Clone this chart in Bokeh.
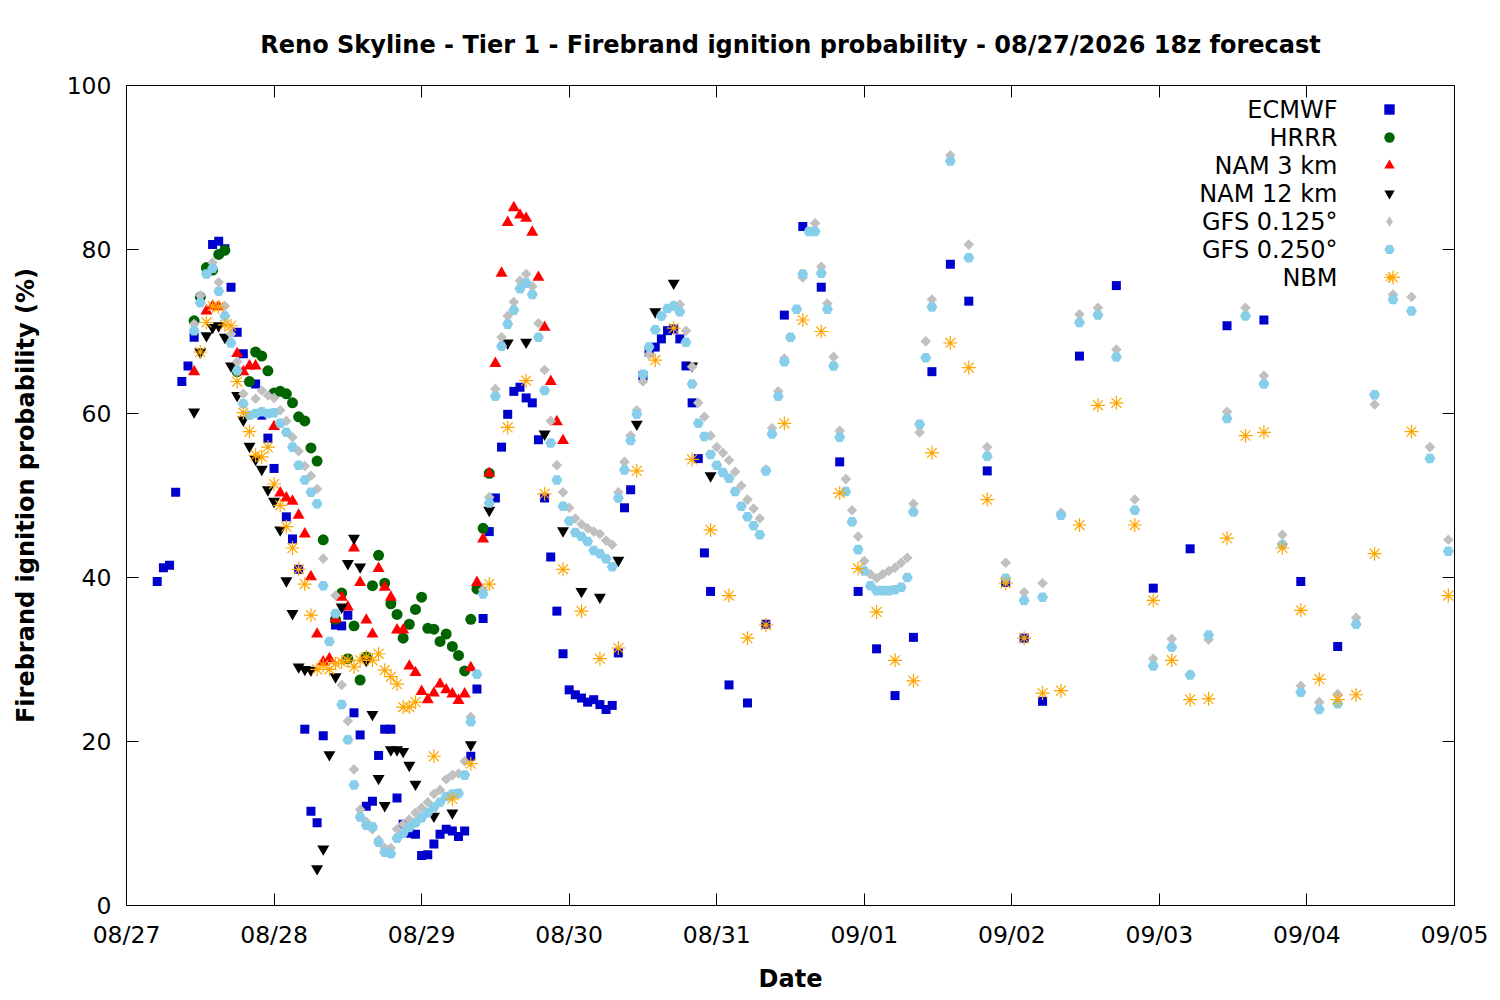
import pandas as pd
from bokeh.plotting import figure
from bokeh.models import (Range1d, FixedTicker, DatetimeTickFormatter, LinearAxis,
                          Legend, LegendItem, CustomJSTickFormatter, Label)
from bokeh.embed import file_html
from bokeh.resources import INLINE

# ---------------- data ----------------
BASE = "2026-08-27 00:00"          # hours below are counted from this local time
X_START = "2026-08-27"
X_END = "2026-09-05"
DAY_TICKS = ["2026-08-27", "2026-08-28", "2026-08-29", "2026-08-30", "2026-08-31",
             "2026-09-01", "2026-09-02", "2026-09-03", "2026-09-04", "2026-09-05"]
Y_TICKS = [0, 20, 40, 60, 80, 100]

TITLE = "Reno Skyline - Tier 1 - Firebrand ignition probability - 08/27/2026 18z forecast"
SERIES_NAMES = ["ECMWF", "HRRR", "NAM 3 km", "NAM 12 km", "GFS 0.125°", "GFS 0.250°", "NBM"]

ecmwf_h = [5, 6, 7, 8, 9, 10, 11, 14, 15, 16, 17, 18, 19, 21, 22, 23, 24, 26, 27, 28, 29, 30, 31, 32,
           34, 35, 36, 37, 38, 39, 40, 41, 42, 43, 44, 45, 46, 47, 48, 49, 50, 51, 52, 53, 54, 55,
           56, 57, 58, 59, 60, 61, 62, 63, 64, 65, 66, 67, 68, 69, 70, 71, 72, 73, 74, 75, 76, 77,
           78, 79, 80, 81, 82, 84, 85, 86, 87, 88, 89, 90, 91, 92, 93, 94, 95,
           98, 101, 104, 107, 110, 113, 116, 119, 122, 125, 128, 131, 134, 137, 140, 143, 146, 149,
           155, 161, 167, 173, 179, 185, 191, 197]
ecmwf_v = [39.5, 41.2, 41.5, 50.4, 63.9, 65.8, 69.3, 80.6, 81.0, 80.1, 75.4, 69.9, 67.3, 63.6, 59.8,
           57.0, 53.3, 47.4, 44.7, 41.0, 21.5, 11.5, 10.1, 20.7,
           34.2, 34.1, 35.4, 23.5, 20.8, 12.1, 12.7, 18.3, 21.5, 21.5, 13.1, 9.9, 8.8, 8.7, 6.1, 6.2,
           7.5, 8.7, 9.3, 9.1, 8.4, 9.1,
           18.2, 26.4, 35.0, 45.6, 49.7, 55.9, 59.9, 62.7, 63.2, 61.9, 61.3, 56.8, 49.7, 42.5, 35.9,
           30.7, 26.3, 25.7, 25.3, 24.8, 25.1, 24.5,
           23.9, 24.4, 30.8, 48.5, 50.7, 64.6, 67.5, 68.1, 69.1, 70.1, 70.3, 69.1, 65.8, 61.3, 54.5,
           43.0, 38.3,
           26.9, 24.7, 34.3, 72.0, 82.8, 75.4, 54.1, 38.3, 31.3, 25.6, 32.7, 65.1, 78.2, 73.7, 53.0,
           39.4, 32.6, 24.9,
           67.0, 75.6, 38.7, 43.5, 70.7, 71.4, 39.5, 31.6]

hrrr_h = [11, 12, 13, 14, 15, 16, 18, 20, 21, 22, 23, 24, 25, 26, 27, 28, 29, 30, 31, 32, 34, 35,
          36, 37, 38, 39, 40, 41, 42, 43, 44, 45, 46, 47, 48, 49, 50, 51, 52, 53, 54, 55, 56, 57,
          58, 59]
hrrr_v = [71.3, 74.2, 77.8, 77.5, 79.4, 79.9, 65.1, 63.9, 67.5, 67.0, 65.2, 62.5, 62.7, 62.4, 61.3,
          59.6, 59.1, 55.8, 54.2, 44.6, 34.9, 38.1,
          30.1, 34.1, 27.5, 30.3, 39.0, 42.7, 39.3, 36.8, 35.5, 32.6, 34.3, 36.1, 37.6, 33.8, 33.7,
          32.2, 33.1, 31.6, 30.5, 28.6, 34.9, 38.6,
          46.0, 52.7]

nam3_h = [11, 13, 14, 15, 18, 19, 20, 21, 24, 25, 26, 27, 28, 29, 30, 31, 32, 33, 34, 35, 36, 37,
          38, 39, 40, 41, 42, 43, 44, 45, 46, 47, 48, 49, 50, 51, 52, 53, 54, 55, 56, 57, 58, 59,
          60, 61, 62, 63, 64, 65, 66, 67, 68, 69, 70, 71]
nam3_v = [65.1, 72.5, 73.1, 73.0, 67.3, 65.1, 65.8, 65.8, 58.4, 50.3, 49.7, 49.3, 47.6, 45.3, 40.1,
          33.1, 29.7, 30.1, 34.9, 37.6, 36.4, 43.6,
          39.4, 34.8, 33.1, 41.1, 38.8, 37.6, 33.6, 33.6, 29.2, 28.4, 26.1, 25.1, 25.9, 27.0, 26.3,
          25.8, 25.0, 25.8, 29.0, 39.4, 44.7, 52.7,
          66.1, 77.1, 83.3, 85.1, 84.2, 83.8, 82.1, 76.6, 70.5, 63.9, 59.0, 56.7]

nam12_h = [11, 12, 13, 14, 15, 16, 17, 18, 19, 20, 21, 22, 23, 24, 25, 26, 27, 28, 29, 30, 31, 32,
           33, 34, 35, 36, 37, 38, 39, 40, 41, 42, 43, 44, 45, 46, 47,
           50, 53, 56, 59, 62, 65, 68, 71, 74, 77, 80, 83, 86, 89, 92, 95]
nam12_v = [60.2, 67.5, 69.5, 70.5, 70.7, 69.3, 65.8, 62.2, 59.2, 56.0, 54.4, 53.2, 50.7, 49.3, 45.8,
           39.6, 35.6, 29.1, 28.8, 28.7, 4.5, 6.9,
           18.4, 27.9, 36.4, 41.7, 44.8, 41.3, 29.9, 23.3, 15.5, 12.2, 19.0, 19.0, 18.8, 17.1, 14.8,
           10.9, 11.3, 19.6, 48.2, 68.6, 68.7, 57.5, 45.7, 38.3, 37.6, 42.1, 58.7, 72.4, 75.9, 65.8,
           52.4]

gfs0125_h = [11, 12, 14, 15, 16, 17, 18, 19, 21, 22, 23, 24, 25, 26, 27, 28, 29, 30, 31, 32, 34, 35,
             36, 37, 38, 39, 40, 41, 42, 43, 44, 45, 46, 47, 48, 49, 50, 51, 52, 53, 54, 55, 56,
             58, 59, 60, 61, 62, 63, 64, 65, 66, 67, 68, 69, 70, 71, 72, 73, 74, 75, 76, 77, 78, 79,
             80, 81, 82, 83, 84, 85, 87, 89, 90, 91, 92, 93, 94, 95, 96, 97, 98, 99, 100, 101, 102,
             103, 104, 105, 106, 107, 110, 112, 113, 114, 115, 116, 117, 118, 119, 120, 121, 122,
             123, 124, 125, 126, 127, 128, 129, 130, 131,
             134, 137, 140, 143, 146, 149, 152, 155, 158, 161, 164, 167, 170, 173, 176, 179, 182,
             185, 188, 191, 194, 197, 200, 203, 206, 209, 212, 215]
gfs0125_v = [70.9, 74.4, 78.4, 76.0, 73.1, 69.7, 66.3, 62.4, 61.8, 62.8, 62.2, 61.9, 60.4, 59.1, 57.1,
             55.4, 53.6, 52.4, 50.8, 42.3, 37.8, 26.9,
             22.5, 16.6, 11.7, 10.2, 9.3, 8.0, 7.0, 7.0, 9.3, 9.9, 10.5, 11.3, 11.9, 12.6, 13.6, 14.1,
             15.4, 15.9, 16.1, 17.6, 23.0,
             38.5, 49.8, 63.0, 69.3, 71.9, 73.6, 76.2, 77.0, 75.5, 71.0, 65.3, 59.1, 53.7, 50.4, 48.5,
             47.2, 46.5, 46.0, 45.6, 45.3, 44.5, 44.0,
             50.4, 54.1, 57.3, 60.4, 63.9, 67.2, 71.9, 73.2, 73.3, 70.1, 65.7, 61.3, 59.6, 57.3, 55.9,
             55.2, 54.3, 52.9, 51.2, 49.5, 48.4,
             47.2, 53.2, 58.2, 62.7, 66.7, 76.6, 83.2, 77.9, 73.4, 66.9, 57.9, 52.0, 48.2, 45.0, 42.0,
             40.4, 39.9,
             40.4, 40.8, 41.2, 41.8, 42.4, 49.0, 57.7, 68.8, 73.9,
             91.5, 80.6, 55.9, 41.8, 38.2, 39.3, 47.9, 72.1, 72.9, 67.8, 49.5, 30.1, 32.5, 28.2, 32.4,
             60.2, 72.9,
             64.6, 45.2, 26.8, 24.8, 25.8, 35.1, 61.1, 74.5, 74.2, 55.9, 44.6]

gfs0250_h = list(range(11, 132)) + list(range(134, 216, 3))
gfs0250_v = [70.1, 73.5, 77.0, 77.7, 74.9, 71.9, 68.6, 65.2, 61.2, 59.8,             # 11-20
             60.0, 60.2, 60.0, 60.1, 58.8, 57.7, 55.9, 53.7, 51.9, 50.4,             # 21-30
             49.0, 39.0, 32.2, 35.6, 24.5, 20.2, 14.7, 10.8, 9.8, 9.6,               # 31-40
             7.7, 6.5, 6.3, 8.2, 8.8, 9.5, 10.1, 10.7, 11.3, 12.0,                   # 41-50
             12.6, 13.3, 13.6, 13.7, 15.9, 22.4, 28.2, 38.0, 49.1, 62.1,             # 51-60
             68.2, 70.9, 72.6, 75.2, 75.9, 74.5, 69.3, 62.8, 56.4, 51.9,             # 61-70
             48.7, 46.9, 45.5, 45.0, 44.4, 43.3, 42.9, 42.3, 41.3, 49.7,             # 71-80
             53.1, 56.7, 59.9, 64.8, 68.1, 70.2, 71.9, 72.8, 73.1, 72.4,             # 81-90
             68.7, 63.6, 58.8, 57.2, 55.0, 53.7, 52.8, 52.1, 50.5, 48.7,             # 91-100
             47.4, 46.3, 45.2, 53.0, 57.5, 62.1, 66.3, 69.3, 72.7, 77.0,             # 101-110
             82.2, 82.2, 77.1, 72.7, 65.8, 57.1, 50.5, 46.8, 43.4, 40.8,             # 111-120
             39.0, 38.4, 38.4, 38.4, 38.5, 38.8, 40.0, 48.0, 58.7, 66.8,             # 121-130
             73.0,                                                                   # 131
             90.8, 79.0, 54.8, 39.9, 37.2, 37.6, 47.6, 71.1, 72.0, 66.9, 48.2, 29.2, 31.5, 28.1,
             33.0, 59.4, 71.9, 63.6, 44.0, 26.0, 23.9, 24.6, 34.3, 62.3, 73.9, 72.5, 54.5, 43.2]

nbm_h = list(range(12, 48)) + [50, 53, 56, 59, 62, 65, 68, 71, 74, 77, 80, 83, 86, 89, 92, 95, 98,
                               101, 104, 107, 110, 113, 116, 119, 122, 125, 128, 131, 134, 137,
                               140, 143, 146, 149, 152, 155, 158, 161, 164, 167, 170, 173, 176,
                               179, 182, 185, 188, 191, 194, 197, 200, 203, 206, 209, 215]
nbm_v = [67.5, 71.1, 73.1, 73.0, 70.8, 70.7, 63.9, 60.1, 57.8, 54.9, 54.7, 55.9, 51.4, 48.8, 46.2,
         43.6, 41.0, 39.2, 35.4, 28.8, 29.3, 28.8, 29.5, 29.7, 29.9, 29.1, 29.9, 30.3, 29.9, 30.7,
         28.7, 27.9, 27.0, 24.2, 24.2, 24.8,
         18.2, 13.0, 17.3, 39.2, 58.3, 64.0, 50.2, 41.0, 35.9, 30.1, 31.4, 53.0, 66.5, 70.4, 54.4,
         45.8, 37.8, 32.6, 34.2, 58.8, 71.4, 70.0, 50.3, 41.1, 35.8, 29.9, 27.4, 55.2, 68.6, 65.6,
         49.5, 39.3, 32.6, 25.9, 26.2, 46.4, 61.0, 61.3, 46.4, 37.2, 29.9, 25.1, 25.2,
         44.8, 57.3, 57.7, 43.6, 36.0, 27.6, 25.1, 25.7, 42.9, 76.6, 57.8, 37.8]

# ---------------- helpers ----------------
base = pd.Timestamp(BASE)


def to_time(hours):
    return base + pd.to_timedelta(hours, unit="h")


def ms(d):
    return pd.Timestamp(d).value / 1e6


FONT = "DejaVu Sans"
W, H = 1490, 995
BL, BR, BT, BB = 126, 36, 85, 85
FRAME_W = W - BL - BR
FRAME_H = H - BT - BB

p = figure(width=W, height=H, x_axis_type="datetime",
           x_range=Range1d(ms(X_START), ms(X_END)), y_range=Range1d(Y_TICKS[0], Y_TICKS[-1]),
           output_backend="svg", toolbar_location=None, title=TITLE,
           min_border_left=BL, min_border_right=BR, min_border_top=BT, min_border_bottom=BB)

p.background_fill_color = "white"
p.border_fill_color = "white"
p.xgrid.visible = False
p.ygrid.visible = False
p.outline_line_color = "black"
p.outline_line_width = 1
p.outline_line_alpha = 1.0

p.title.text_font = FONT
p.title.text_font_size = "24px"
p.title.text_font_style = "bold"
p.title.align = "center"
p.title.text_color = "black"
p.title.standoff = 54

tick_ms = [ms(d) for d in DAY_TICKS]
fmt = "%m/%d"
dt_fmt = DatetimeTickFormatter(microseconds=fmt, milliseconds=fmt, seconds=fmt, minsec=fmt,
                               minutes=fmt, hourmin=fmt, hours=fmt, days=fmt, months=fmt,
                               years=fmt)


def style_axis(ax):
    ax.major_tick_in = 12
    ax.major_tick_out = 0
    ax.minor_tick_in = 0
    ax.minor_tick_out = 0
    ax.major_tick_line_color = "black"
    ax.axis_line_color = "black"
    ax.major_label_text_font = FONT
    ax.major_label_text_font_size = "23.5px"
    ax.major_label_text_color = "black"
    ax.axis_label_text_font = FONT
    ax.axis_label_text_font_size = "24px"
    ax.axis_label_text_font_style = "bold"
    ax.axis_label_text_color = "black"


xa = p.xaxis[0]
xa.ticker = FixedTicker(ticks=tick_ms)
xa.formatter = dt_fmt
xa.axis_label = "Date"
style_axis(xa)
xa.major_label_standoff = 15
xa.axis_label_standoff = 13

ya = p.yaxis[0]
ya.ticker = FixedTicker(ticks=Y_TICKS)
ya.axis_label = "Firebrand ignition probability (%)"
style_axis(ya)
ya.major_label_standoff = 15
ya.axis_label_standoff = 24

blank = CustomJSTickFormatter(code="return ''")
top_ax = LinearAxis(ticker=FixedTicker(ticks=tick_ms), formatter=blank)
style_axis(top_ax)
top_ax.major_label_text_font_size = "1px"
p.add_layout(top_ax, "above")
right_ax = LinearAxis(ticker=FixedTicker(ticks=Y_TICKS), formatter=blank)
style_axis(right_ax)
right_ax.major_label_text_font_size = "1px"
p.add_layout(right_ax, "right")

# ---------------- glyphs ----------------
r_ec = p.scatter(to_time(ecmwf_h), ecmwf_v, marker="square", size=9,
                 fill_color="#0000cd", line_color=None)
r_hr = p.scatter(to_time(hrrr_h), hrrr_v, marker="circle", size=11,
                 fill_color="#006400", line_color=None)
r_n3 = p.scatter(to_time(nam3_h), nam3_v, marker="triangle", size=12,
                 fill_color="#ff0000", line_color=None)
r_n12 = p.scatter(to_time(nam12_h), nam12_v, marker="inverted_triangle", size=12,
                  fill_color="#000000", line_color=None)
r_g1 = p.scatter(to_time(gfs0125_h), gfs0125_v, marker="square", angle=0.785398, size=7.5,
                 fill_color="#c0c0c0", line_color=None)
r_g2 = p.scatter(to_time(gfs0250_h), gfs0250_v, marker="hex", size=11,
                 fill_color="#87ceeb", line_color=None)
r_nb = p.scatter(to_time(nbm_h), nbm_v, marker="asterisk", size=14,
                 line_color="#ffa500", line_width=1.2)
# legend swatch for GFS 0.125 (legend glyphs ignore marker rotation, so a hidden diamond
# renderer supplies the key symbol)
r_g1_key = p.scatter(to_time(gfs0125_h[:1]), gfs0125_v[:1], marker="diamond", size=12,
                     fill_color="#c0c0c0", line_color=None, visible=False)

# legend: markers from a Legend, names as right-aligned labels to their left (gnuplot style)
LEG_GLYPH_W = 26
LEG_GLYPH_X = 1263 - LEG_GLYPH_W // 2   # frame-relative px of glyph box left
LEG_TEXT_RIGHT = 1211                   # frame-relative px
LEG_FIRST_ROW = 29                      # px below frame top
LEG_ROW = 28

renderers = [r_ec, r_hr, r_n3, r_n12, r_g1_key, r_g2, r_nb]
items = [LegendItem(label="", renderers=[r]) for r in renderers]
legend = Legend(items=items,
                location=(LEG_GLYPH_X, FRAME_H - LEG_FIRST_ROW + LEG_ROW // 2 - LEG_ROW * len(items)),
                orientation="vertical", click_policy="none",
                inactive_fill_alpha=0.0,
                border_line_color=None, background_fill_alpha=0, padding=0, spacing=0,
                margin=0, glyph_width=LEG_GLYPH_W, glyph_height=LEG_ROW, label_height=LEG_ROW,
                label_standoff=0, label_text_font_size="1px")
p.add_layout(legend, "center")

for i, name in enumerate(SERIES_NAMES):
    p.add_layout(Label(x=LEG_TEXT_RIGHT, y=FRAME_H - LEG_FIRST_ROW - LEG_ROW * i,
                       x_units="screen", y_units="screen", text=name,
                       text_align="right", text_baseline="middle",
                       text_font=FONT, text_font_size="24px", text_color="black"))

open("out.html", "w").write(file_html(p, INLINE))
